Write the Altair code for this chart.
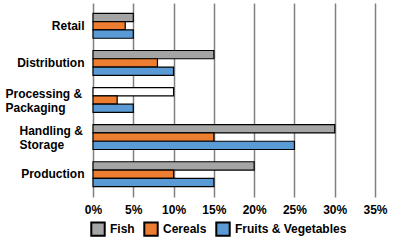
import altair as alt
import pandas as pd

categories = ["Retail", "Distribution", "Processing &\nPackaging", "Handling &\nStorage", "Production"]
series = ["Fish", "Cereals", "Fruits & Vegetables"]
fish = [5, 15, 10, 30, 20]
cereals = [4, 8, 3, 15, 10]
fruits_veg = [5, 10, 5, 25, 15]
colors = ["#a5a5a5", "#ed7d31", "#5b9bd5"]
x_ticks = [0, 5, 10, 15, 20, 25, 30, 35]

rows = []
for i, c in enumerate(categories):
    for s, vals in zip(series, [fish, cereals, fruits_veg]):
        rows.append({"category": c, "series": s, "value": vals[i]})
df = pd.DataFrame(rows)

FONT = "Liberation Sans"

chart = alt.Chart(df).mark_bar(stroke="black", strokeWidth=1.2).encode(
    y=alt.Y("category:N", sort=categories, title=None,
            scale=alt.Scale(paddingInner=0.33, paddingOuter=0.28),
            axis=alt.Axis(labelExpr="split(datum.label, '\\n')", ticks=False, domain=False,
                          labelAlign={"condition": {"test": "indexof(datum.value, '&') >= 0", "value": "left"}, "value": "right"},
                          labelPadding={"condition": [
                              {"test": "indexof(datum.value, 'Processing') >= 0", "value": 88},
                              {"test": "indexof(datum.value, 'Handling') >= 0", "value": 74}],
                              "value": 9},
                          labelOffset={"condition": {"test": "indexof(datum.value, '&') >= 0", "value": -6}, "value": 0},
                          labelFont=FONT, labelFontWeight="bold",
                          labelFontSize=12, labelColor="black", labelLimit=200)),
    yOffset=alt.YOffset("series:N", sort=series, scale=alt.Scale(paddingInner=0, paddingOuter=0)),
    x=alt.X("value:Q", title=None, scale=alt.Scale(domain=[0, 35], nice=False),
            axis=alt.Axis(values=x_ticks, labelExpr="datum.value + '%'", ticks=False, domain=False,
                          grid=True, gridColor="#808080", gridWidth=1.5, labelFlush=False,
                          labelPadding=7, labelFont=FONT, labelFontWeight="bold",
                          labelFontSize=12, labelColor="black")),
    color=alt.condition(
        "datum.series == 'Fish' && datum.value == 10",
        alt.value("white"),
        alt.Color("series:N", sort=series, scale=alt.Scale(domain=series, range=colors),
                  legend=alt.Legend(title=None, orient="none", legendX=-3, legendY=218,
                                    direction="horizontal", symbolType="square", symbolSize=180,
                                    symbolStrokeColor="black", symbolStrokeWidth=2,
                                    labelFont=FONT, labelFontWeight="bold", labelFontSize=12,
                                    labelColor="black", labelOffset=4, columnPadding=5,
                                    symbolOpacity=1)),
    ),
).properties(
    width=282, height=194,
    autosize=alt.AutoSizeParams(type="none"),
    padding={"left": 93, "top": 3, "right": 20, "bottom": 45},
).configure_view(stroke=None)

chart.save("out.html", embed_options={"renderer": "svg", "actions": False})
